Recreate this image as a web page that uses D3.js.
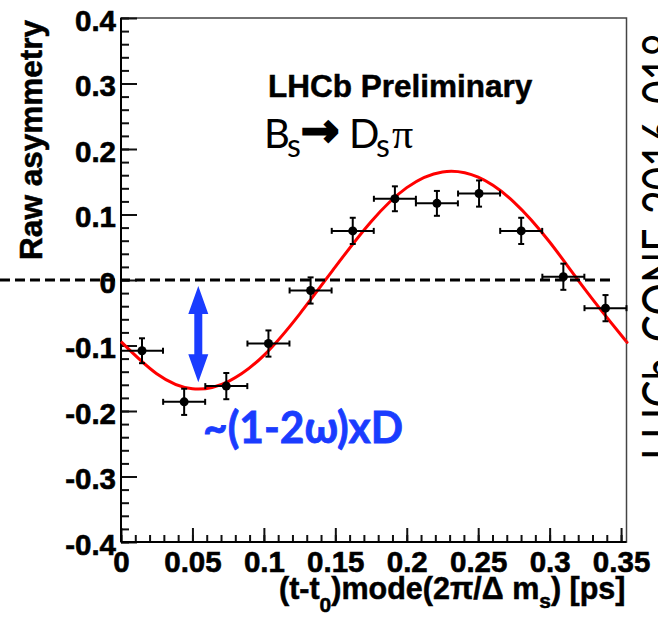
<!DOCTYPE html>
<html><head><meta charset="utf-8">
<script src="https://cdn.jsdelivr.net/npm/d3@7"></script>
<style>html,body{margin:0;padding:0;background:#fff;} svg{display:block;}</style>
</head><body><svg id="c" width="658" height="621"></svg>
<script>
// ---- data ----
const xMax = 0.3538;   // axis ends at one oscillation period 2*pi/dm_s
const binCenters = [0.0147,0.0442,0.0737,0.1032,0.1327,0.1622,0.1917,0.2211,0.2506,0.2801,0.3096,0.3391];
const binHalfWidth = 0.0147;
const asymmetry = [-0.108,-0.186,-0.162,-0.097,-0.016,0.075,0.124,0.117,0.132,0.075,0.005,-0.043];
const asymErr   = [0.019,0.020,0.020,0.020,0.020,0.020,0.019,0.019,0.020,0.020,0.020,0.020];
const fitT = [0,0.025,0.05,0.075,0.1,0.125,0.15,0.175,0.2,0.225,0.25,0.275,0.3,0.325,0.35,0.3538];
const fitA = [-0.094,-0.143,-0.166,-0.155,-0.115,-0.052,0.020,0.089,0.141,0.165,0.157,0.119,0.058,-0.015,-0.084,-0.094];
const xTickValues = [0,0.05,0.1,0.15,0.2,0.25,0.3,0.35];
const xTickLabels = ["0","0.05","0.1","0.15","0.2","0.25","0.3","0.35"];
const yTickValues = [-0.4,-0.3,-0.2,-0.1,0,0.1,0.2,0.3,0.4];
const yTickLabels = ["-0.4","-0.3","-0.2","-0.1","0","0.1","0.2","0.3","0.4"];
const zeroLineSpan = [-0.0847,0.3442];
const arrowAnn = {t:0.0541, top:-0.009, bottom:-0.156};

// ---- layout ----
const pL=121,pR=626.5,pT=18,pB=542;
const x=d3.scaleLinear().domain([0,xMax]).range([pL,pR]);
const y=d3.scaleLinear().domain([-0.4,0.4]).range([pB,pT]);
const svg=d3.select("#c");
const AX="'Liberation Sans', Arial, Helvetica, sans-serif";
const CAL="Lato, 'Open Sans', sans-serif";
const BLUE="#1a3cff";

// frame
svg.append("rect").attr("x",pL).attr("y",pT).attr("width",pR-pL).attr("height",pB-pT)
  .attr("fill","none").attr("stroke","#444").attr("stroke-width",1.5);

// axes
function styleAxis(g){
  g.select(".domain").remove();
  g.selectAll(".tick line").attr("stroke","#111").attr("stroke-width",2);
  g.selectAll("text").attr("font-family",AX).attr("font-weight","bold").attr("font-size",29.5).attr("fill","#000")
    .attr("stroke","#000").attr("stroke-width",0.6);
}
const xMinor=d3.range(0,0.3501,0.01);
const yMinor=d3.range(-0.4,0.4001,0.02);
svg.append("g").attr("transform",`translate(0,${pB})`)
  .call(d3.axisBottom(x).tickValues(xMinor).tickFormat("").tickSize(-7).tickSizeOuter(0)).call(styleAxis);
svg.append("g").attr("transform",`translate(0,${pB})`)
  .call(d3.axisBottom(x).tickValues(xTickValues).tickFormat((d,i)=>xTickLabels[i]).tickSize(-14).tickSizeOuter(0).tickPadding(9))
  .call(styleAxis);
svg.append("g").attr("transform",`translate(${pL},0)`)
  .call(d3.axisLeft(y).tickValues(yMinor).tickFormat("").tickSize(-8).tickSizeOuter(0)).call(styleAxis);
const yg=svg.append("g").attr("transform",`translate(${pL},0)`)
  .call(d3.axisLeft(y).tickValues(yTickValues).tickFormat((d,i)=>yTickLabels[i]).tickSize(-16).tickSizeOuter(0).tickPadding(5))
  .call(styleAxis);
yg.selectAll("text").attr("dy","0.42em");
// axis lines
svg.append("line").attr("x1",pL).attr("x2",pL).attr("y1",pT).attr("y2",pB).attr("stroke","#000").attr("stroke-width",2);
svg.append("line").attr("x1",pL).attr("x2",pR).attr("y1",pB).attr("y2",pB).attr("stroke","#000").attr("stroke-width",2);

// axis titles
svg.append("text").attr("transform",`translate(42,${pT+2}) rotate(-90)`).attr("text-anchor","end")
  .attr("font-family",AX).attr("font-weight","bold").attr("font-size",31.5).attr("stroke","#000").attr("stroke-width",0.5)
  .text("Raw asymmetry");
const xt=svg.append("text").attr("x",pR-1).attr("y",599).attr("text-anchor","end")
  .attr("font-family",AX).attr("font-weight","bold").attr("font-size",30.5).attr("stroke","#000").attr("stroke-width",0.5);
xt.append("tspan").text("(t-t");
xt.append("tspan").attr("font-size",21).attr("dy",13).text("0");
xt.append("tspan").attr("dy",-13).text(")mode(2\u03c0/\u0394 m");
xt.append("tspan").attr("font-size",21).attr("dy",9).text("s");
xt.append("tspan").attr("dy",-9).text(") [ps]");

// fit curve
const line=d3.line().x((d,i)=>x(fitT[i])).y(d=>y(d)).curve(d3.curveNatural);
svg.append("path").attr("d",line(fitA)).attr("fill","none").attr("stroke","#ff0000").attr("stroke-width",3);

// data points with error bars
const pts=svg.append("g");
asymmetry.forEach((v,i)=>{
  const cx=x(binCenters[i]), cy=y(v);
  const x0=x(binCenters[i]-binHalfWidth), x1=x(binCenters[i]+binHalfWidth);
  const y0=y(v-asymErr[i]), y1=y(v+asymErr[i]);
  const g=pts.append("g").attr("stroke","#000").attr("stroke-width",2);
  g.append("line").attr("x1",x0).attr("x2",x1).attr("y1",cy).attr("y2",cy);
  g.append("line").attr("x1",cx).attr("x2",cx).attr("y1",y0).attr("y2",y1);
  g.append("line").attr("x1",x0).attr("x2",x0).attr("y1",cy-3).attr("y2",cy+3);
  g.append("line").attr("x1",x1).attr("x2",x1).attr("y1",cy-3).attr("y2",cy+3);
  g.append("line").attr("x1",cx-3).attr("x2",cx+3).attr("y1",y0).attr("y2",y0);
  g.append("line").attr("x1",cx-3).attr("x2",cx+3).attr("y1",y1).attr("y2",y1);
  pts.append("circle").attr("cx",cx).attr("cy",cy).attr("r",4.5).attr("fill","#000");
});

// dashed zero line
svg.append("line").attr("x1",x(zeroLineSpan[0])).attr("x2",x(zeroLineSpan[1])).attr("y1",y(0)).attr("y2",y(0))
  .attr("stroke","#000").attr("stroke-width",3).attr("stroke-dasharray","10,5");

// blue double arrow
{
  const ax=x(arrowAnn.t), yt=y(arrowAnn.top), yb=y(arrowAnn.bottom);
  const hw=10, sw=4, hl=28;
  const p=d3.path();
  p.moveTo(ax,yt); p.lineTo(ax+hw,yt+hl); p.lineTo(ax+sw,yt+hl); p.lineTo(ax+sw,yb-hl); p.lineTo(ax+hw,yb-hl);
  p.lineTo(ax,yb); p.lineTo(ax-hw,yb-hl); p.lineTo(ax-sw,yb-hl); p.lineTo(ax-sw,yt+hl); p.lineTo(ax-hw,yt+hl); p.closePath();
  svg.append("path").attr("d",p.toString()).attr("fill",BLUE);
}

// annotations
svg.append("text").attr("x",268).attr("y",97).attr("font-family",AX).attr("font-weight","bold")
  .attr("font-size",31.5).attr("fill","#000").attr("stroke","#000").attr("stroke-width",0.5).text("LHCb Preliminary");
const dec=svg.append("text").attr("font-family",CAL).attr("font-size",40).attr("fill","#000");
dec.append("tspan").attr("x",264).attr("y",148).text("B");
dec.append("tspan").attr("x",287).attr("y",157).attr("font-size",32).text("s");
dec.append("tspan").attr("x",301).attr("y",146).attr("font-family","'DejaVu Sans'").attr("font-weight","bold")
  .attr("font-size",46).attr("stroke","#000").attr("stroke-width",2.2).text("\u2192");
dec.append("tspan").attr("x",349).attr("y",148).text("D");
dec.append("tspan").attr("x",376).attr("y",157).attr("font-size",32).text("s");
dec.append("tspan").attr("x",392).attr("y",148).attr("font-family","'Liberation Serif'").attr("font-size",42).text("\u03c0");

svg.append("text").attr("x",203).attr("y",443).attr("font-family",CAL).attr("font-weight","bold")
  .attr("font-size",43).attr("fill",BLUE).attr("stroke",BLUE).attr("stroke-width",0.8)
  .attr("textLength",200).attr("lengthAdjust","spacingAndGlyphs").text("~(1-2\u03c9)xD");

svg.append("text").attr("transform","translate(680,460) rotate(-90)").attr("font-family",CAL)
  .attr("font-size",52).attr("fill","#000").attr("textLength",427).attr("lengthAdjust","spacingAndGlyphs").text("LHCb-CONF-2016-018");
</script></body></html>
